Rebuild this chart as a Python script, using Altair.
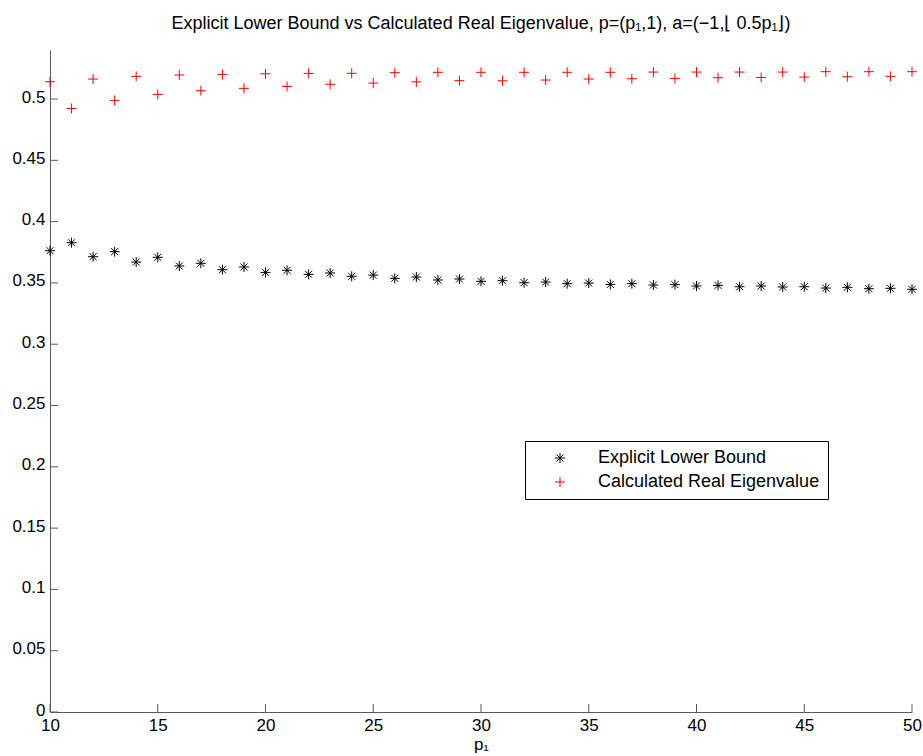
import altair as alt
import pandas as pd

p1 = list(range(10, 51))
lower_bound = [0.3763, 0.3828, 0.3714, 0.3755, 0.3670, 0.3709, 0.3638, 0.3660, 0.3608, 0.3630,
               0.3586, 0.3603, 0.3570, 0.3581, 0.3554, 0.3564, 0.3537, 0.3548, 0.3524, 0.3532,
               0.3513, 0.3518, 0.3502, 0.3507, 0.3494, 0.3499, 0.3488, 0.3494, 0.3483, 0.3486,
               0.3475, 0.3480, 0.3469, 0.3475, 0.3467, 0.3469, 0.3458, 0.3464, 0.3453, 0.3456,
               0.3448]
eigenvalue = [0.5141, 0.4923, 0.5163, 0.4989, 0.5185, 0.5038, 0.5196, 0.5068, 0.5201, 0.5087,
              0.5206, 0.5103, 0.5209, 0.5120, 0.5210, 0.5130, 0.5215, 0.5140, 0.5218, 0.5150,
              0.5218, 0.5149, 0.5218, 0.5155, 0.5218, 0.5163, 0.5218, 0.5166, 0.5220, 0.5168,
              0.5220, 0.5174, 0.5220, 0.5176, 0.5220, 0.5179, 0.5223, 0.5182, 0.5223, 0.5185,
              0.5223]
series_names = ["Explicit Lower Bound", "Calculated Real Eigenvalue"]
x_ticks = [10, 15, 20, 25, 30, 35, 40, 45, 50]
y_ticks = [0, 0.05, 0.1, 0.15, 0.2, 0.25, 0.3, 0.35, 0.4, 0.45, 0.5]

df = pd.DataFrame({
    "p1": p1 + p1,
    "value": lower_bound + eigenvalue,
    "series": [series_names[0]] * len(p1) + [series_names[1]] * len(p1),
})
xt = pd.DataFrame({"p1": x_ticks})
yt = pd.DataFrame({"value": y_ticks})

W, H = 862, 662
FONT = "Liberation Sans"
AXC = "#5a5a5a"
ASTERISK = "M-1,0L1,0M0,-1L0,1M-0.7,-0.7L0.7,0.7M-0.7,0.7L0.7,-0.7"
PLUS = "M-1,0L1,0M0,-1L0,1"

xs = alt.Scale(domain=[10, 50], nice=False, zero=False)
ys = alt.Scale(domain=[0, 0.54], nice=False, zero=False)

x_axis = alt.Axis(values=x_ticks, title="p₁", ticks=False, grid=False, labelFlush=False,
                  labelPadding=5, titlePadding=3)
y_axis = alt.Axis(values=y_ticks, title=None, format="~g", ticks=False, grid=False,
                  labelFlush=False, labelPadding=5, labelOffset=-2)

leg = alt.Legend(
    title=None, orient="none", legendX=475, legendY=391,
    padding=8, symbolOffset=18, labelOffset=29, rowPadding=6,
    strokeColor="black", fillColor="white", labelFont=FONT, labelFontSize=18,
    labelColor="black", labelLimit=400, symbolSize=100, symbolStrokeWidth=1,
)

points = alt.Chart(df).mark_point(filled=False, strokeWidth=1, size=100, opacity=1).encode(
    x=alt.X("p1:Q", scale=xs, axis=x_axis),
    y=alt.Y("value:Q", scale=ys, axis=y_axis),
    color=alt.Color("series:N", scale=alt.Scale(domain=series_names, range=["black", "#ff0000"]),
                    legend=leg),
    shape=alt.Shape("series:N", scale=alt.Scale(domain=series_names, range=[ASTERISK, PLUS]),
                    legend=leg),
)

yticks = alt.Chart(yt).mark_rule(color=AXC, strokeWidth=1).encode(
    y=alt.Y("value:Q", scale=ys, axis=y_axis), x=alt.value(0), x2=alt.value(8))
xticks = alt.Chart(xt).mark_rule(color=AXC, strokeWidth=1).encode(
    x=alt.X("p1:Q", scale=xs, axis=x_axis), y=alt.value(H), y2=alt.value(H - 8))

chart = alt.layer(points, yticks, xticks).properties(
    width=W, height=H,
    title=alt.TitleParams(
        "Explicit Lower Bound vs Calculated Real Eigenvalue,  p=(p₁,1), a=(−1,⌊ 0.5p₁⌋)",
        font=FONT, fontSize=18, fontWeight="normal", color="black", anchor="middle", offset=17),
    autosize=alt.AutoSizeParams(type="none"),
    padding={"left": 50, "top": 50, "right": 11, "bottom": 44},
).configure_view(stroke=None).configure_axis(
    domainColor=AXC, labelFont=FONT, labelFontSize=17, labelColor="black",
    titleFont=FONT, titleFontSize=17, titleFontWeight="normal", titleColor="black",
)

chart.save("out.html", embed_options={"renderer": "svg", "actions": False})
